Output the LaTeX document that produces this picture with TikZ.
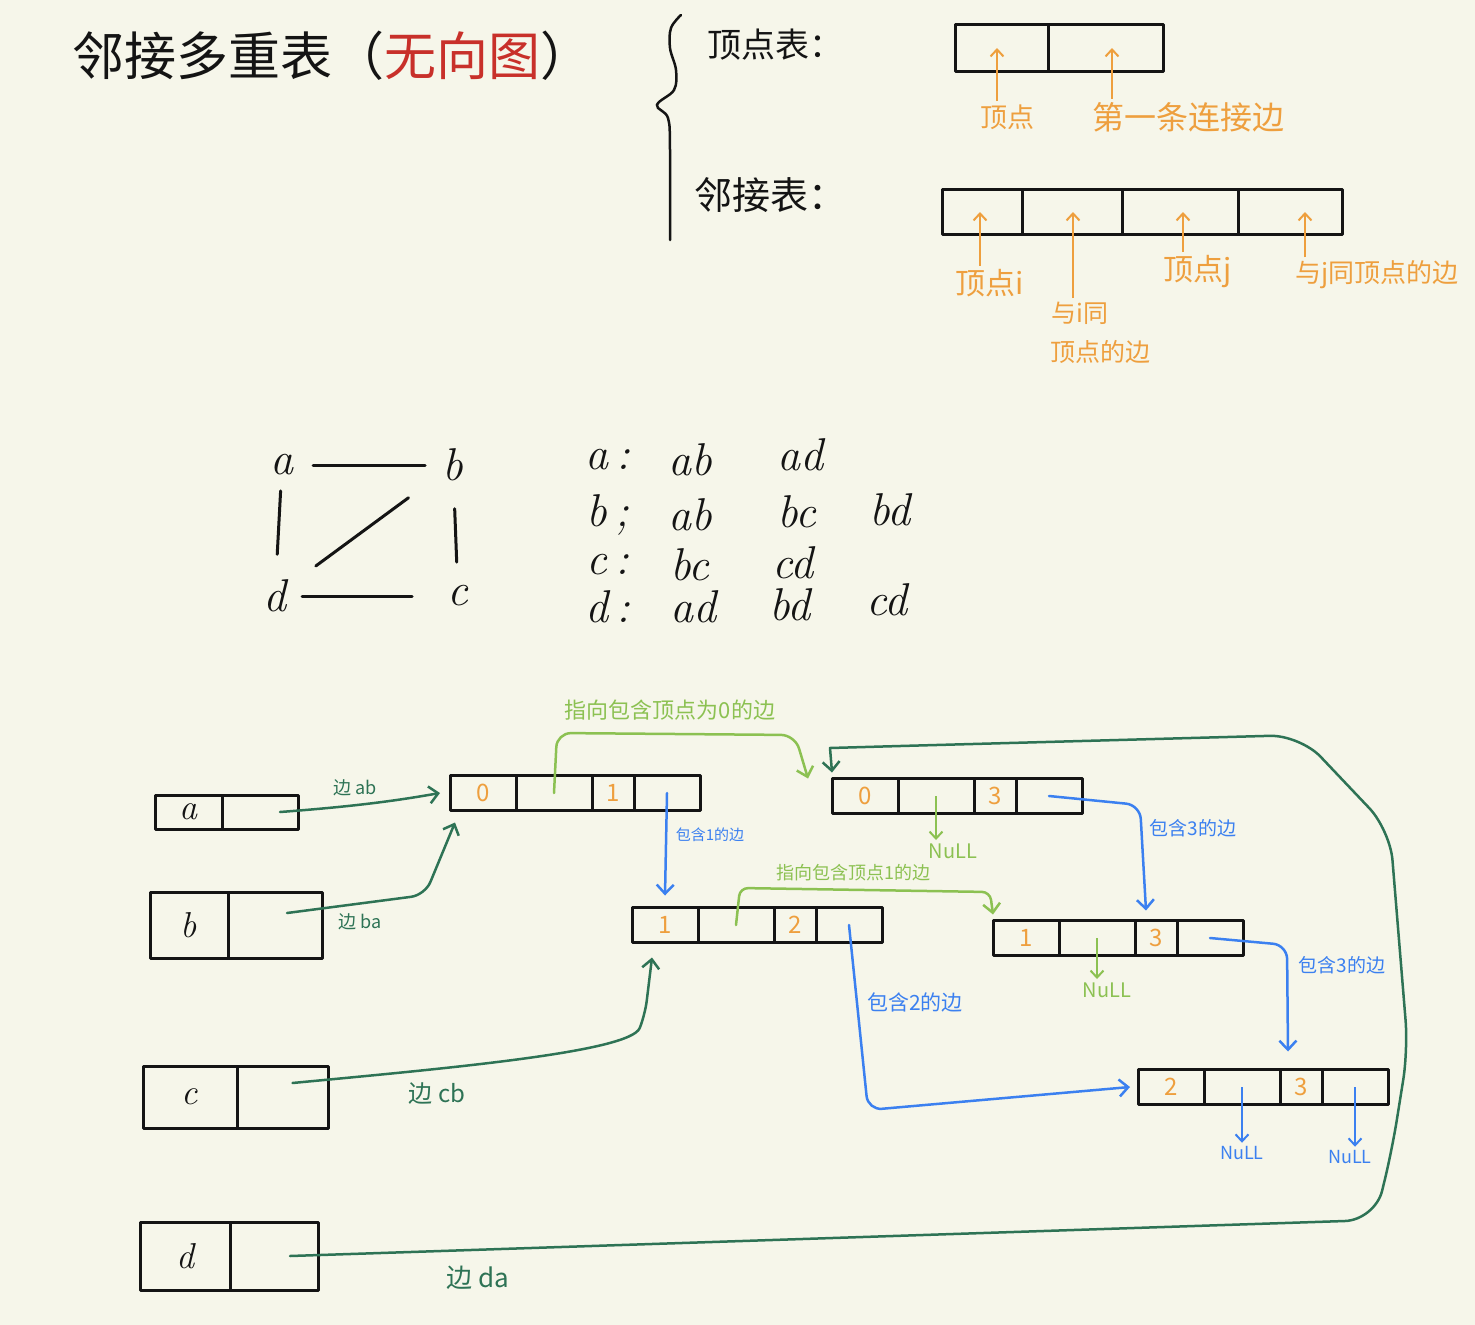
\documentclass[tikz,border=0pt]{standalone}
\usepackage{fontspec}
\newfontfamily\cjk{Noto Sans CJK SC}
\usetikzlibrary{positioning,arrows.meta}
\definecolor{paper}{HTML}{F6F6EA}
\definecolor{ink}{HTML}{141414}
\definecolor{note}{HTML}{EE9F3E}
\definecolor{lime}{HTML}{8CC152}
\definecolor{pine}{HTML}{2E7355}
\definecolor{sky}{HTML}{3B80F0}
\definecolor{brick}{HTML}{C8302A}
\tikzset{
  cell/.style={draw=ink, line width=3pt, line join=round, minimum height=35pt, inner sep=0pt,
    outer sep=0pt, anchor=west, text=note, font=\cjk\fontsize{24}{24}\selectfont},
  vcell/.style={cell, text=ink, font=\itshape\fontsize{36}{36}\selectfont},
  lbl/.style={font=\cjk\fontsize{#1}{#1}\selectfont},
  hand/.style={text=ink, font=\itshape\fontsize{46}{46}\selectfont},
  gedge/.style={ink, line width=3pt, line cap=round},
  arr/.style={-{Straight Barb[length=9pt,width=17pt,line width=2.5pt]}, line width=2.5pt,
    line cap=round, line join=round, rounded corners=14pt},
  small/.style={-{Straight Barb[length=7pt,width=13pt,line width=2pt]}, line width=2pt},
}
\begin{document}
\begin{tikzpicture}[x=1pt,y=-1pt]
        \fill[paper] (0,0) rectangle (1475,1325);
        \useasboundingbox (0,0) rectangle (1475,1325);

        % title and legend
        \node[lbl=52, text=ink] at (332,56) (title) {邻接多重表（\textcolor{brick}{无向图}）};
        \draw[ink, line width=2.5pt, line cap=round] plot[smooth, tension=0.6] coordinates
            {(681,15) (671,28) (670,48) (676,70) (674,90) (657,105) (668,118) (670,150) (670,240)};
        \node[lbl=34, text=ink] at (775,45) (vtabname) {顶点表：};
        \node[lbl=38, text=ink] at (770,195) (etabname) {邻接表：};

        \node[cell, minimum width=93pt, minimum height=47pt] at (955,48) (tv1) {};
        \node[cell, minimum width=115pt, minimum height=47pt, right=0pt of tv1] (tv2) {};
        \node[cell, minimum width=80pt, minimum height=45pt] at (942,212) (ta1) {};
        \node[cell, minimum width=100pt, minimum height=45pt, right=0pt of ta1] (ta2) {};
        \node[cell, minimum width=116pt, minimum height=45pt, right=0pt of ta2] (ta3) {};
        \node[cell, minimum width=104pt, minimum height=45pt, right=0pt of ta3] (ta4) {};

        \node[lbl=27, text=note] at (1007,117) (lvex) {顶点};
        \node[lbl=32, text=note] at (1188,117) (lfirst) {第一条连接边};
        \node[lbl=30, text=note] at (990,283) (lvi) {顶点\textit{i}};
        \node[lbl=25, text=note] at (1080,313) (lsamei) {与\textit{i}同};
        \node[lbl=25, text=note] at (1100,352) (lsamei2) {顶点的边};
        \node[lbl=30, text=note] at (1198,272) (lvj) {顶点\textit{j}};
        \node[lbl=26, text=note] at (1377,275) (lsamej) {与\textit{j}同顶点的边};
        \draw[small, note] ([xshift=-10pt]lvex.north) -- ([xshift=-10pt]lvex.north |- tv1.center);
        \draw[small, note] ([xshift=-76pt]lfirst.north) -- ([xshift=-76pt]lfirst.north |- tv2.center);
        \draw[small, note] ([xshift=-10pt]lvi.north) -- ([xshift=-10pt]lvi.north |- ta1.center);
        \draw[small, note] ([xshift=-7pt]lsamei.north) -- ([xshift=-7pt]lsamei.north |- ta2.center);
        \draw[small, note] ([xshift=-15pt]lvj.north) -- ([xshift=-15pt]lvj.north |- ta3.center);
        \draw[small, note] ([xshift=-72pt]lsamej.north) -- ([xshift=-72pt]lsamej.north |- ta4.center);

        % the graph
        \node[hand] at (282,465) (ga) {a};
        \node[hand] at (453,465) (gb) {b};
        \node[hand] at (458,596) (gc) {c};
        \node[hand] at (275,596) (gd) {d};
        \draw[gedge, shorten <=16pt, shorten >=14pt] (ga) -- (gb);
        \draw[gedge, shorten <=12pt, shorten >=22pt] (ga) -- (gd);
        \draw[gedge, shorten <=24pt, shorten >=20pt] (gb) -- (gc);
        \draw[gedge, shorten <=32pt, shorten >=38pt] (gd) -- (gb);
        \draw[gedge, shorten <=12pt, shorten >=32pt] (gd) -- (gc);

        \node[hand] at (608,460) (ka) {a\,:};
        \node[hand] at (690,460) (aab) {ab};
        \node[hand] at (800,455) (aad) {ad};
        \node[hand] at (608,515) (kb) {b\,;};
        \node[hand] at (690,515) (bab) {ab};
        \node[hand] at (797,512) (bbc) {bc};
        \node[hand] at (890,510) (bbd) {bd};
        \node[hand] at (608,565) (kc) {c\,:};
        \node[hand] at (690,565) (cbc) {bc};
        \node[hand] at (793,563) (ccd) {cd};
        \node[hand] at (608,607) (kd) {d\,:};
        \node[hand] at (693,607) (dad) {ad};
        \node[hand] at (790,605) (dbd) {bd};
        \node[hand] at (887,600) (dcd) {cd};

        % vertex table
        \node[vcell, minimum width=67pt, minimum height=34pt] at (155,812) (va1) {a};
        \node[vcell, minimum width=76pt, minimum height=34pt, right=0pt of va1] (va2) {};
        \node[vcell, minimum width=78pt, minimum height=66pt] at (150,925) (vb1) {b};
        \node[vcell, minimum width=94pt, minimum height=66pt, right=0pt of vb1] (vb2) {};
        \node[vcell, minimum width=94pt, minimum height=62pt] at (143,1097) (vc1) {c};
        \node[vcell, minimum width=91pt, minimum height=62pt, right=0pt of vc1] (vc2) {};
        \node[vcell, minimum width=90pt, minimum height=68pt] at (140,1256) (vd1) {d};
        \node[vcell, minimum width=88pt, minimum height=68pt, right=0pt of vd1] (vd2) {};

        % edge nodes
        \node[cell, minimum width=66pt] at (450,793) (eab1) {0};
        \node[cell, minimum width=76pt, right=0pt of eab1] (eab2) {};
        \node[cell, minimum width=42pt, right=0pt of eab2] (eab3) {1};
        \node[cell, minimum width=66pt, right=0pt of eab3] (eab4) {};

        \node[cell, minimum width=66pt] at (832,796) (ead1) {0};
        \node[cell, minimum width=76pt, right=0pt of ead1] (ead2) {};
        \node[cell, minimum width=42pt, right=0pt of ead2] (ead3) {3};
        \node[cell, minimum width=66pt, right=0pt of ead3] (ead4) {};

        \node[cell, minimum width=66pt] at (632,925) (ebc1) {1};
        \node[cell, minimum width=76pt, right=0pt of ebc1] (ebc2) {};
        \node[cell, minimum width=42pt, right=0pt of ebc2] (ebc3) {2};
        \node[cell, minimum width=66pt, right=0pt of ebc3] (ebc4) {};

        \node[cell, minimum width=66pt] at (993,938) (ebd1) {1};
        \node[cell, minimum width=76pt, right=0pt of ebd1] (ebd2) {};
        \node[cell, minimum width=42pt, right=0pt of ebd2] (ebd3) {3};
        \node[cell, minimum width=66pt, right=0pt of ebd3] (ebd4) {};

        \node[cell, minimum width=66pt] at (1138,1087) (ecd1) {2};
        \node[cell, minimum width=76pt, right=0pt of ecd1] (ecd2) {};
        \node[cell, minimum width=42pt, right=0pt of ecd2] (ecd3) {3};
        \node[cell, minimum width=66pt, right=0pt of ecd3] (ecd4) {};

        % first edges of the vertices
        \draw[arr, pine] ([xshift=20pt]va2.center) .. controls (360,806) and (400,800) .. ([xshift=-10pt]eab1.west);
        \node[lbl=18, text=pine] at (355,788) (lab) {边 ab};
        \draw[arr, pine] ([xshift=12pt,yshift=12pt]vb2.center) -- (425,895) -- ([xshift=5pt,yshift=-12pt]eab1.south west);
        \node[lbl=18, text=pine] at (360,922) (lba) {边 ba};
        \draw[arr, pine] ([xshift=10pt,yshift=14pt]vc2.center) .. controls (450,1068) and (630,1052) .. (645,1015) -- ([xshift=20pt,yshift=-15pt]ebc1.south west);
        \node[lbl=24, text=pine] at (437,1094) (lcb) {边 cb};
        \draw[arr, pine, rounded corners=30pt] ([xshift=16pt]vd2.center) -- (1375,1220) -- (1392,1150) -- (1408,1050) -- (1390,830) -- (1300,735) -- (900,746) [sharp corners] -- (830,748) -- ([yshift=6pt]ead1.north west);
        \node[lbl=26, text=pine] at (478,1278) (lda) {边 da};

        % links of the edge nodes
        \draw[arr, lime] (eab2.center) -- (557,733) -- (795,735) -- ([xshift=-24pt]ead1.north west);
        \node[lbl=22, text=lime] at (670,710) (lto0) {指向包含顶点为0的边};
        \draw[arr, lime, rounded corners=8pt] (ebc2.center) -- (740,888) -- (990,892) -- ([yshift=6pt]ebd1.north west);
        \node[lbl=18, text=lime] at (853,873) (lto1) {指向包含顶点1的边};

        \node[lbl=20, text=lime] at (953,851) (nul1) {NuLL};
        \draw[small, lime] (ead2.center) -- (ead2.center |- nul1.north);
        \node[lbl=20, text=lime] at (1107,990) (nul2) {NuLL};
        \draw[small, lime] (ebd2.center) -- (ebd2.center |- nul2.north);

        \draw[arr, sky] (eab4.center) -- ([yshift=12pt]ebc1.north);
        \node[lbl=15, text=sky] at (710,835) (lin1) {包含1的边};
        \draw[arr, sky] (ead4.center) -- (1140,805) -- ([xshift=-10pt,yshift=10pt]ebd3.north);
        \node[lbl=19, text=sky] at (1193,828) (lin3a) {包含3的边};
        \draw[arr, sky] (ebc4.center) -- (868,1110) -- ([xshift=-8pt]ecd1.west);
        \node[lbl=21, text=sky] at (915,1002) (lin2) {包含2的边};
        \draw[arr, sky] (ebd4.center) -- (1287,945) -- ([xshift=-13pt,yshift=18pt]ecd3.north);
        \node[lbl=19, text=sky] at (1342,965) (lin3b) {包含3的边};

        \node[lbl=18, text=sky] at (1242,1153) (nul3) {NuLL};
        \draw[small, sky] (ecd2.center) -- (ecd2.center |- nul3.north);
        \node[lbl=18, text=sky] at (1350,1157) (nul4) {NuLL};
        \draw[small, sky] (ecd4.center) -- (ecd4.center |- nul4.north);

    \end{tikzpicture}
\end{document}
